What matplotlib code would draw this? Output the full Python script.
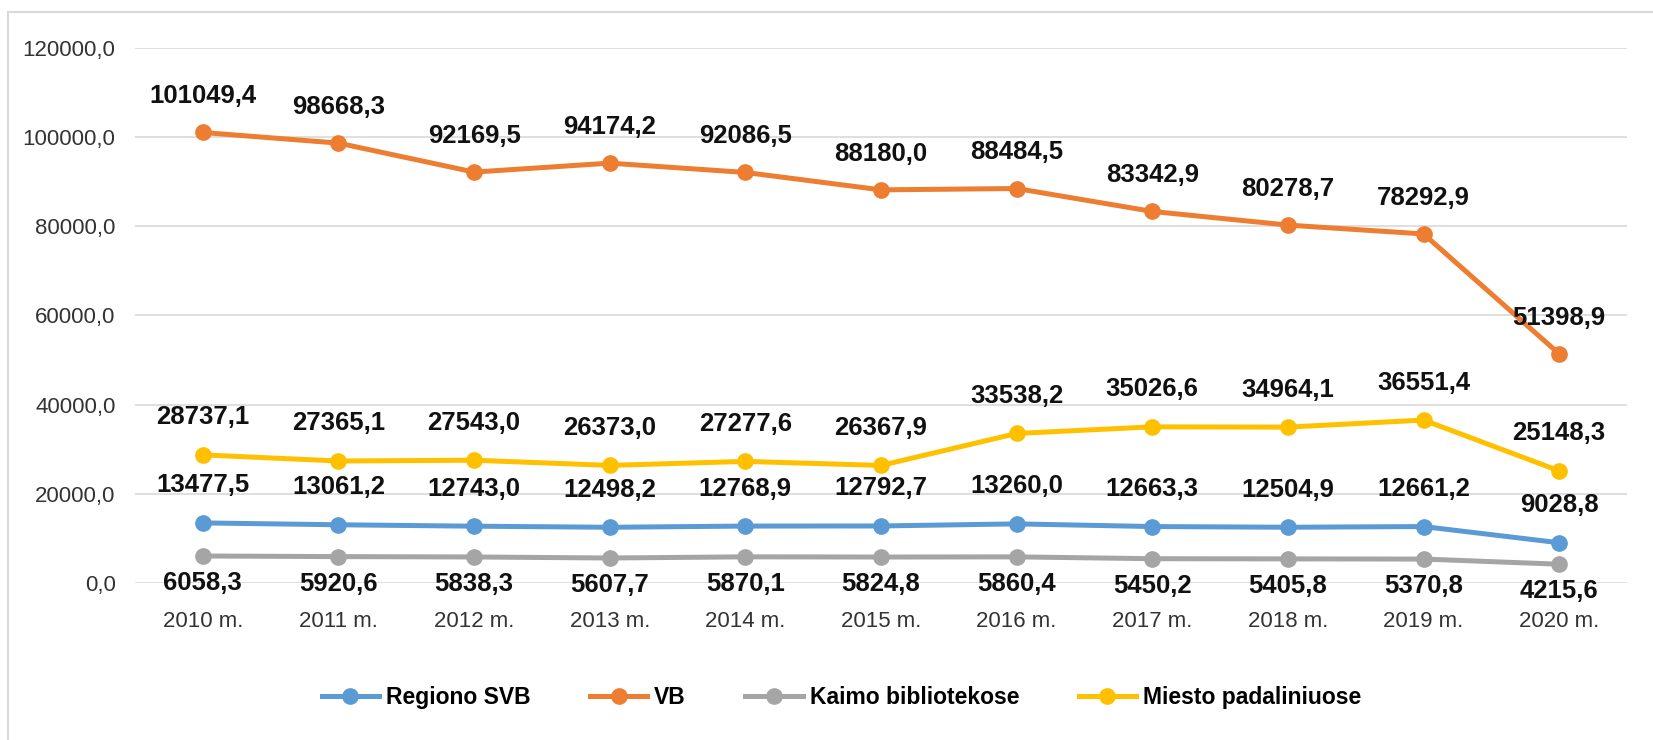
import matplotlib
matplotlib.use("Agg")
import matplotlib.pyplot as plt
from matplotlib.lines import Line2D

plt.rcParams['font.family'] = ['Liberation Sans', 'DejaVu Sans']

years = ['2010 m.', '2011 m.', '2012 m.', '2013 m.', '2014 m.', '2015 m.',
         '2016 m.', '2017 m.', '2018 m.', '2019 m.', '2020 m.']
regiono_svb = [13477.5, 13061.2, 12743.0, 12498.2, 12768.9, 12792.7,
               13260.0, 12663.3, 12504.9, 12661.2, 9028.8]
vb = [101049.4, 98668.3, 92169.5, 94174.2, 92086.5, 88180.0,
      88484.5, 83342.9, 80278.7, 78292.9, 51398.9]
kaimo = [6058.3, 5920.6, 5838.3, 5607.7, 5870.1, 5824.8,
         5860.4, 5450.2, 5405.8, 5370.8, 4215.6]
miesto = [28737.1, 27365.1, 27543.0, 26373.0, 27277.6, 26367.9,
          33538.2, 35026.6, 34964.1, 36551.4, 25148.3]

# (label, values, colour, label offset in points)
series = [
    ('Regiono SVB', regiono_svb, '#5B9BD5', 27),
    ('VB', vb, '#ED7D31', 26),
    ('Kaimo bibliotekose', kaimo, '#A5A5A5', -19.5),
    ('Miesto padaliniuose', miesto, '#FFC000', 27),
]

def fmt(v):
    return f'{v:.1f}'.replace('.', ',')

fig = plt.figure(figsize=(16.53, 7.4), dpi=100)
ax = fig.add_axes([135 / 1653, 1 - 583 / 740, (1627 - 135) / 1653, (583 - 48) / 740])

x = list(range(len(years)))
for name, vals, col, off in series:
    ax.plot(x, vals, color=col, lw=3.6, marker='o', ms=11, label=name,
            solid_capstyle='round', zorder=3)
    for xi, v in zip(x, vals):
        ax.annotate(fmt(v), (xi, v), xytext=(0, off), textcoords='offset points',
                    ha='center', va='center', fontsize=18.5, fontweight='bold',
                    color='#111111', zorder=4)

ax.set_xlim(-0.5, len(years) - 0.5)
ax.set_ylim(0, 120000)
ax.set_yticks(range(0, 120001, 20000))
ax.set_yticklabels([fmt(t) for t in range(0, 120001, 20000)])
ax.set_xticks(x)
ax.set_xticklabels(years)
ax.tick_params(axis='both', length=0, labelsize=16, colors='#333333')
ax.tick_params(axis='x', pad=20)
ax.tick_params(axis='y', pad=14)
ax.grid(axis='y', color='#d9d9d9', lw=1.2)
ax.set_axisbelow(True)
for s in ax.spines.values():
    s.set_visible(False)

handles = [Line2D([0], [0], color=c, lw=3.6, marker='o', ms=11) for _, _, c, _ in series]
fig.legend(handles, [s[0] for s in series], loc='center', bbox_to_anchor=(0.509, 0.058),
           ncol=4, frameon=False, prop={'size': 16.5, 'weight': 'bold'},
           handlelength=2.5, columnspacing=2.6, handletextpad=0.3)

# chart frame (left and top edges visible)
fig.add_artist(Line2D([8 / 1653, 8 / 1653], [0, 1 - 12 / 740], color='#d9d9d9', lw=1.5))
fig.add_artist(Line2D([8 / 1653, 1], [1 - 12 / 740, 1 - 12 / 740], color='#d9d9d9', lw=1.5))

fig.savefig('out.png', dpi=100)
